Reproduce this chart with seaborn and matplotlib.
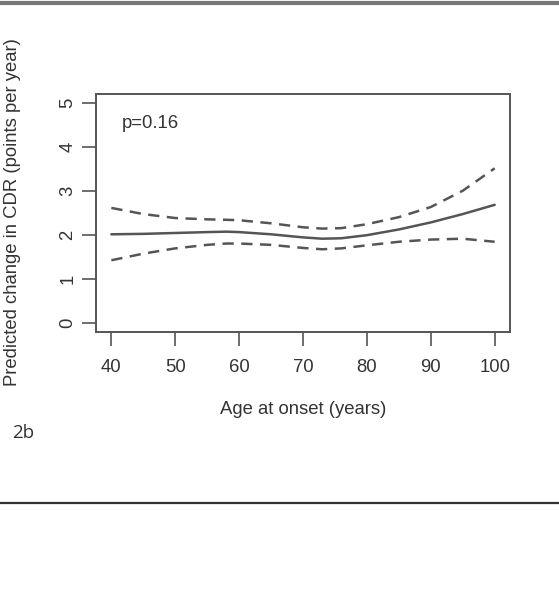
import matplotlib
matplotlib.use("Agg")
import matplotlib.pyplot as plt
import seaborn as sns
import pandas as pd

sns.set_theme(style="white")
plt.rcParams['font.family'] = ['Liberation Sans', 'DejaVu Sans']

# Data
age = [40, 45, 50, 55, 58, 60, 65, 70, 73, 76, 80, 85, 90, 95, 100]
fit = [2.01, 2.02, 2.04, 2.06, 2.07, 2.06, 2.01, 1.94, 1.91, 1.92, 1.99, 2.12, 2.28, 2.47, 2.68]
upper = [2.61, 2.47, 2.38, 2.35, 2.34, 2.33, 2.26, 2.17, 2.14, 2.15, 2.24, 2.40, 2.63, 3.00, 3.51]
lower = [1.42, 1.57, 1.69, 1.77, 1.80, 1.80, 1.77, 1.70, 1.67, 1.69, 1.76, 1.84, 1.89, 1.91, 1.84]
x_ticks = [40, 50, 60, 70, 80, 90, 100]
y_ticks = [0, 1, 2, 3, 4, 5]

df = pd.DataFrame({"age": age, "fit": fit, "upper": upper, "lower": lower})

W, H = 559, 592
fig = plt.figure(figsize=(W / 100, H / 100), dpi=100)
ax = fig.add_axes([96 / W, 1 - 331.5 / H, (510 - 96) / W, (331.5 - 94) / H])

col = "#555555"
txt = "#333333"
fs = 13.3
sns.lineplot(data=df, x="age", y="fit", ax=ax, color=col, lw=1.8)
sns.lineplot(data=df, x="age", y="upper", ax=ax, color=col, lw=1.8, linestyle=(0, (4.5, 3)))
sns.lineplot(data=df, x="age", y="lower", ax=ax, color=col, lw=1.8, linestyle=(0, (4.5, 3)))

ax.set_xlim(37.6, 102.4)
ax.set_ylim(-0.2, 5.2)
ax.set_xticks(x_ticks)
ax.set_yticks(y_ticks)
ax.set_xticklabels([str(v) for v in x_ticks], fontsize=fs, color=txt)
ax.set_yticklabels([str(v) for v in y_ticks], fontsize=fs, color=txt,
                   rotation=90, va="center")
ax.tick_params(axis="both", direction="out", length=10, width=1.2, color="#555555",
               bottom=True, left=True)
ax.tick_params(axis="x", pad=10)
ax.tick_params(axis="y", pad=4)
for s in ax.spines.values():
    s.set_visible(True)
    s.set_color("#555555")
    s.set_linewidth(1.4)
ax.set_xlabel("")
ax.set_ylabel("")

fig.text(303 / W, 1 - 410 / H, "Age at onset (years)", fontsize=fs, color=txt,
         ha="center", va="center")
fig.text(13 / W, 1 - 212 / H, "Predicted change in CDR (points per year)", fontsize=fs,
         color=txt, ha="center", va="center", rotation=90)

ax.text(122 / W, 1 - 124 / H, "p=0.16", transform=fig.transFigure, fontsize=fs,
        color=txt, va="center", ha="left")

fig.text(12 / W, 1 - 433 / H, "2b", fontsize=13.5, color=txt,
         family=["Open Sans", "DejaVu Sans"], va="center", ha="left")

# frame lines of the source figure panel
fig.add_artist(plt.Line2D([0, 1], [1 - 2.5 / H, 1 - 2.5 / H], color="#777777", lw=3,
                          transform=fig.transFigure))
fig.add_artist(plt.Line2D([0, 1], [1 - 503 / H, 1 - 503 / H], color="#333333", lw=1.6,
                          transform=fig.transFigure))

fig.savefig("out.png", dpi=100, facecolor="white")
